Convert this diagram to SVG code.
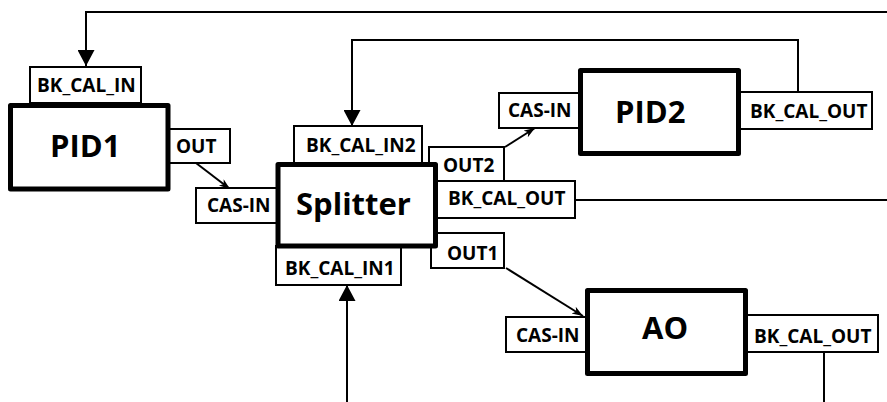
<svg xmlns="http://www.w3.org/2000/svg" width="887" height="402" viewBox="0 0 887 402">
<defs>
<marker id="big" markerUnits="userSpaceOnUse" markerWidth="17" markerHeight="17" refX="16" refY="8.5" orient="auto"><path d="M0,0 L16,8.5 L0,17 z" fill="#000"/></marker>
<marker id="small" markerUnits="userSpaceOnUse" markerWidth="12" markerHeight="10" refX="11" refY="4" orient="auto"><path d="M0,0 L11,4 L0,8 L3,4 z" fill="#000"/></marker>
</defs>
<style>
.lbl{fill:#fff;stroke:#000;stroke-width:2}
.blk{fill:#fff;stroke:#000;stroke-width:5;stroke-linejoin:round}
.lt{font-family:"Open Sans","Noto Sans",sans-serif;font-weight:700;font-size:19px;fill:#000}
.bt{font-family:"Open Sans","Noto Sans",sans-serif;font-weight:700;font-size:31px;fill:#000}
.c{fill:none;stroke:#000;stroke-width:2}
</style>
<g id="connectors">
<path class="c" d="M887,12 H86 V66" marker-end="url(#big)"/>
<path class="c" d="M798,92 V40 H352 V126" marker-end="url(#big)"/>
<path class="c" d="M575,200 H887"/>
<path class="c" d="M824,352 V402"/>
<path class="c" d="M347,402 V285" marker-end="url(#big)"/>
<path class="c" d="M196,163 L230,189" marker-end="url(#small)"/>
<path class="c" d="M505,147 L535,128" marker-end="url(#small)"/>
<path class="c" d="M506,268 L583,316" marker-end="url(#small)"/>
</g>
<g id="pid1">
<rect class="lbl" x="30" y="67" width="111" height="36"/>
<text class="lt" x="37" y="92">BK_CAL_IN</text>
<rect class="lbl" x="168" y="129" width="62" height="34"/>
<text class="lt" x="176" y="153">OUT</text>
<rect class="blk" x="10.5" y="105.5" width="157.5" height="83.5"/>
<text class="bt" x="50" y="157">PID1</text>
</g>
<g id="splitter">
<rect class="lbl" x="294" y="126" width="128" height="38"/>
<text class="lt" x="306" y="152">BK_CAL_IN2</text>
<rect class="lbl" x="196" y="188" width="82" height="35"/>
<text class="lt" x="207" y="212">CAS-IN</text>
<rect class="lbl" x="429" y="147" width="75" height="34"/>
<text class="lt" x="443" y="172">OUT2</text>
<rect class="lbl" x="435" y="181" width="140" height="37"/>
<text class="lt" x="448" y="205">BK_CAL_OUT</text>
<rect class="lbl" x="431" y="233" width="73" height="35"/>
<text class="lt" x="447" y="260">OUT1</text>
<rect class="lbl" x="276" y="246" width="125" height="39"/>
<text class="lt" x="285" y="275">BK_CAL_IN1</text>
<rect class="blk" x="278" y="164.5" width="157.5" height="81.5"/>
<text class="bt" x="296" y="215">Splitter</text>
</g>
<g id="pid2">
<rect class="lbl" x="499" y="93" width="82" height="35"/>
<text class="lt" x="508" y="117">CAS-IN</text>
<rect class="lbl" x="738" y="92" width="134" height="37"/>
<text class="lt" x="750" y="118">BK_CAL_OUT</text>
<rect class="blk" x="580.5" y="70.5" width="158" height="83"/>
<text class="bt" x="615" y="123">PID2</text>
</g>
<g id="ao">
<rect class="lbl" x="506" y="317" width="82" height="35"/>
<text class="lt" x="516" y="342">CAS-IN</text>
<rect class="lbl" x="744" y="315" width="134" height="37"/>
<text class="lt" x="754" y="343">BK_CAL_OUT</text>
<rect class="blk" x="587.5" y="290.5" width="158" height="83"/>
<text class="bt" x="642" y="339">AO</text>
</g>
</svg>
